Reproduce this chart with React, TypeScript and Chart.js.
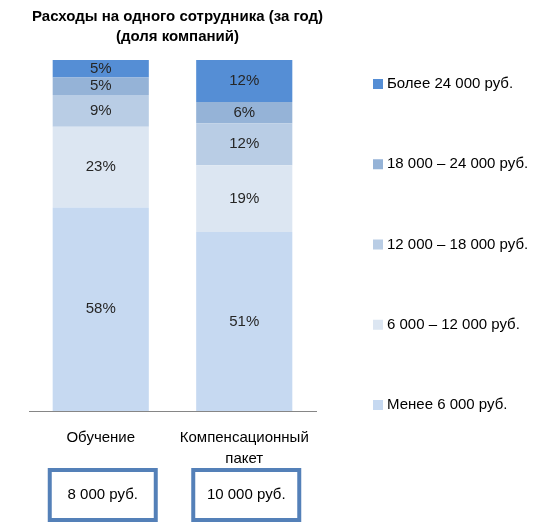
import React, { useEffect, useRef } from "react";
import { Chart, registerables } from "chart.js";

Chart.register(...registerables);

const categories = [["Обучение"], ["Компенсационный", "пакет"]];
const seriesNames = [
  "Менее 6 000 руб.",
  "6 000 – 12 000 руб.",
  "12 000 – 18 000 руб.",
  "18 000 – 24 000 руб.",
  "Более 24 000 руб.",
];
const under6 = [58, 51];
const from6to12 = [23, 19];
const from12to18 = [9, 12];
const from18to24 = [5, 6];
const over24 = [5, 12];
const costLabels = ["8 000 руб.", "10 000 руб."];
const titleLines = ["Расходы на одного сотрудника (за год)", "(доля компаний)"];
const colors = ["#c6d9f1", "#dce6f2", "#b9cde5", "#95b3d7", "#558ed5"];

const FONT = "'Liberation Sans', Arial, sans-serif";

const titlePlugin = {
  id: "twoLineTitle",
  afterDraw(chart: any) {
    const ctx = chart.ctx;
    const area = chart.chartArea;
    const cx = (area.left + area.right) / 2 + 5;
    ctx.save();
    ctx.font = `bold 15px ${FONT}`;
    ctx.fillStyle = "#000";
    ctx.textAlign = "center";
    ctx.textBaseline = "middle";
    titleLines.forEach((t, i) => ctx.fillText(t, cx, 17 + i * 20));
    ctx.restore();
  },
};

const segLabelPlugin = {
  id: "segLabels",
  afterDatasetsDraw(chart: any) {
    const ctx = chart.ctx;
    ctx.save();
    ctx.font = `15px ${FONT}`;
    ctx.fillStyle = "#262626";
    ctx.textAlign = "center";
    ctx.textBaseline = "middle";
    chart.data.datasets.forEach((ds: any, di: number) => {
      const meta = chart.getDatasetMeta(di);
      meta.data.forEach((el: any, i: number) => {
        const y = (el.y + el.base) / 2;
        ctx.fillText(`${ds.data[i]}%`, el.x, y);
      });
    });
    ctx.restore();
  },
};

const legendPlugin = {
  id: "sideLegend",
  afterDraw(chart: any) {
    const ctx = chart.ctx;
    const area = chart.chartArea;
    const n = chart.data.datasets.length;
    const start = area.top + 24;
    const end = area.bottom - 6;
    const step = (end - start) / (n - 1);
    ctx.save();
    ctx.font = `15px ${FONT}`;
    ctx.textBaseline = "middle";
    ctx.textAlign = "left";
    for (let k = 0; k < n; k++) {
      const di = n - 1 - k;
      const ds = chart.data.datasets[di];
      const y = start + step * k;
      const x = area.right + 57;
      ctx.fillStyle = ds.backgroundColor;
      ctx.fillRect(x, y - 5, 10, 10);
      ctx.fillStyle = "#000";
      ctx.fillText(ds.label, x + 14, y);
    }
    ctx.restore();
  },
};

const boxPlugin = {
  id: "costBoxes",
  afterDraw(chart: any) {
    const ctx = chart.ctx;
    const xs = chart.scales.x;
    ctx.save();
    ctx.font = `15px ${FONT}`;
    ctx.textAlign = "center";
    ctx.textBaseline = "middle";
    costLabels.forEach((lab, i) => {
      const cx = xs.getPixelForValue(i) + 2;
      const top = chart.height - 61;
      const w = 106;
      const h = 50;
      ctx.strokeStyle = "#5480b8";
      ctx.lineWidth = 4;
      ctx.strokeRect(cx - w / 2, top, w, h);
      ctx.fillStyle = "#000";
      ctx.fillText(lab, cx, top + h / 2);
    });
    ctx.restore();
  },
};

export default function App() {
  const ref = useRef<HTMLCanvasElement | null>(null);
  useEffect(() => {
    document.body.style.margin = "0";
    const canvas = ref.current!;
    const datasetsSrc = [under6, from6to12, from12to18, from18to24, over24];
    const chart = new Chart(canvas, {
      type: "bar",
      data: {
        labels: categories as any,
        datasets: datasetsSrc.map((d, i) => ({
          label: seriesNames[i],
          data: d,
          backgroundColor: colors[i],
          borderWidth: 0,
          categoryPercentage: 1,
          barPercentage: 0.67,
        })),
      },
      options: {
        animation: false,
        responsive: false,
        devicePixelRatio: 1,
        layout: { padding: { left: 29, right: 238, top: 60, bottom: 46 } },
        plugins: {
          legend: { display: false },
          tooltip: { enabled: false },
          title: { display: false },
        },
        scales: {
          x: {
            stacked: true,
            grid: { display: false, drawTicks: false, tickLength: 0 },
            border: { display: true, color: "#868686", width: 1 },
            ticks: {
              color: "#000",
              padding: 16,
              font: { family: FONT, size: 15, lineHeight: 1.4 },
              maxRotation: 0,
            },
          },
          y: { stacked: true, display: false, min: 0, max: 100 },
        },
      },
      plugins: [segLabelPlugin, legendPlugin, boxPlugin, titlePlugin],
    });
    return () => chart.destroy();
  }, []);
  return (
    <div style={{ width: 554, height: 531, background: "#fff" }}>
      <canvas ref={ref} width={554} height={531} />
    </div>
  );
}
